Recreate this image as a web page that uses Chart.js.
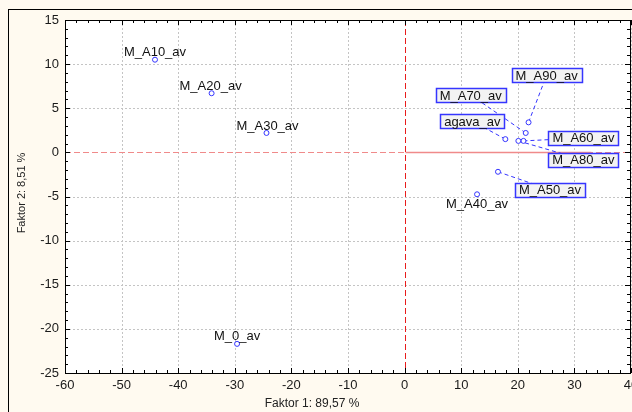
<!DOCTYPE html>
<html>
<head>
<meta charset="utf-8">
<script src="https://cdn.jsdelivr.net/npm/chart.js@4.4.0/dist/chart.umd.min.js"></script>
<style>
  html, body { margin: 0; padding: 0; background: #fffaf0; }
  #wrap { width: 632px; height: 412px; }
</style>
</head>
<body>
<div id="wrap"><canvas id="pcaChart" width="632" height="412"></canvas></div>
<script>
// dados (Faktor 1 x Faktor 2)
const nomes = ['M_0_av', 'M_A10_av', 'M_A20_av', 'M_A30_av', 'M_A40_av', 'M_A50_av', 'agava_av', 'M_A60_av', 'M_A70_av', 'M_A80_av', 'M_A90_av'];
const fator1 = [-29.6, -44.1, -34.1, -24.4, 12.8, 16.5, 17.8, 21.0, 21.4, 20.1, 21.9];
const fator2 = [-21.7, 10.5, 6.7, 2.2, -4.75, -2.2, 1.5, 1.3, 2.2, 1.3, 3.4];
const ticksX = [-60, -50, -40, -30, -20, -10, 0, 10, 20, 30, 40];
const ticksY = [-25, -20, -15, -10, -5, 0, 5, 10, 15];

// onde vai cada rotulo (em pixels, relativo ao ponto)
const rotulos = {
    'M_0_av':   { caixa: false, dx: 0,   dy: -8 },
    'M_A10_av': { caixa: false, dx: 0,   dy: -8 },
    'M_A20_av': { caixa: false, dx: -1,  dy: -8 },
    'M_A30_av': { caixa: false, dx: 1,   dy: -8 },
    'M_A40_av': { caixa: false, dx: 0,   dy: 9 },
    'M_A50_av': { caixa: true,  dx: 52,  dy: 18 },
    'agava_av': { caixa: true,  dx: -33, dy: -18 },
    'M_A60_av': { caixa: true,  dx: 60,  dy: -3 },
    'M_A70_av': { caixa: true,  dx: -55, dy: -38 },
    'M_A80_av': { caixa: true,  dx: 65,  dy: 19 },
    'M_A90_av': { caixa: true,  dx: 18,  dy: -47 }
};

const fonte = '"Liberation Sans", Arial, sans-serif';
const azul = '#3535ff';

function posRotulo(chart, i) {
    const xs = chart.scales.x, ys = chart.scales.y;
    const px = xs.getPixelForValue(fator1[i]);
    const py = ys.getPixelForValue(fator2[i]);
    const r = rotulos[nomes[i]];
    return { px: px, py: py, cx: px + r.dx, cy: py + r.dy, r: r };
}

const fundoPlugin = {
    id: 'fundo',
    beforeDraw(chart) {
        const c = chart.ctx, a = chart.chartArea;
        const xs = chart.scales.x, ys = chart.scales.y;
        c.save();
        c.fillStyle = '#fffaf0';
        c.fillRect(0, 0, chart.width, chart.height);
        c.strokeStyle = '#000';
        c.lineWidth = 1;
        c.strokeRect(8.5, 9.5, chart.width + 20, chart.height + 20);
        c.fillStyle = '#ffffff';
        c.fillRect(a.left, a.top, a.right - a.left, a.bottom - a.top);

        // grade pontilhada (no zero fica so a linha vermelha)
        c.strokeStyle = '#c4c4c4';
        c.setLineDash([2, 2]);
        ticksX.forEach(function (v) {
            if (v === 0) return;
            const x = Math.round(xs.getPixelForValue(v)) + 0.5;
            c.beginPath(); c.moveTo(x, a.top); c.lineTo(x, a.bottom); c.stroke();
        });
        ticksY.forEach(function (v) {
            if (v === 0) return;
            const y = Math.round(ys.getPixelForValue(v)) + 0.5;
            c.beginPath(); c.moveTo(a.left, y); c.lineTo(a.right, y); c.stroke();
        });

        // linhas do zero
        const x0 = Math.round(xs.getPixelForValue(0)) + 0.5;
        const y0 = Math.round(ys.getPixelForValue(0)) + 0.5;
        c.strokeStyle = '#f08a8a';
        c.setLineDash([6, 3]);
        c.beginPath(); c.moveTo(a.left, y0); c.lineTo(a.right, y0); c.stroke();
        c.setLineDash([]);
        c.lineWidth = 1.5;
        c.beginPath(); c.moveTo(x0, y0); c.lineTo(xs.getPixelForValue(33), y0); c.stroke();
        c.lineWidth = 1;
        c.strokeStyle = '#e81c1c';
        c.setLineDash([6, 3]);
        c.beginPath(); c.moveTo(x0, a.top); c.lineTo(x0, a.bottom); c.stroke();
        c.restore();
    },
    beforeDatasetsDraw(chart) {
        const c = chart.ctx;
        c.save();
        c.strokeStyle = azul;
        c.lineWidth = 1;
        c.setLineDash([4, 3]);
        nomes.forEach(function (n, i) {
            const p = posRotulo(chart, i);
            if (!p.r.caixa) return;
            c.beginPath(); c.moveTo(p.px, p.py); c.lineTo(p.cx, p.cy); c.stroke();
        });
        c.restore();
    },
    afterDatasetsDraw(chart) {
        const c = chart.ctx, a = chart.chartArea;
        const xs = chart.scales.x, ys = chart.scales.y;
        c.save();
        c.font = '13px ' + fonte;
        c.textAlign = 'center';
        c.textBaseline = 'middle';
        nomes.forEach(function (n, i) {
            const p = posRotulo(chart, i);
            if (p.r.caixa) {
                const w = Math.round(c.measureText(n).width) + 8, h = 14;
                const bx = Math.round(p.cx - w / 2) + 0.5, by = Math.round(p.cy - h / 2) + 0.5;
                c.fillStyle = '#f3f3f3';
                c.fillRect(bx, by, w, h);
                c.strokeStyle = azul;
                c.lineWidth = 1.5;
                c.strokeRect(bx, by, w, h);
            }
            c.fillStyle = '#111';
            c.fillText(n, p.cx, p.cy + 1);
        });

        // ultimo rotulo do eixo x (fica cortado na borda)
        const ultimo = ticksX[ticksX.length - 1];
        c.fillStyle = '#1a1a1a';
        c.textBaseline = 'top';
        c.fillText(String(ultimo), xs.getPixelForValue(ultimo), a.bottom + 6);
        c.textBaseline = 'middle';

        // moldura e tracinhos
        c.strokeStyle = '#000';
        c.lineWidth = 1;
        c.strokeRect(a.left + 0.5, a.top + 0.5, a.right - a.left - 1, a.bottom - a.top);
        c.beginPath();
        for (let v = -60; v <= 40; v += 2) {
            const x = Math.round(xs.getPixelForValue(v)) + 0.5;
            const t = (v % 10 === 0) ? 5 : 3;
            c.moveTo(x, a.bottom); c.lineTo(x, a.bottom - t);
            c.moveTo(x, a.top); c.lineTo(x, a.top + t);
        }
        for (let v = -25; v <= 15; v += 1) {
            const y = Math.round(ys.getPixelForValue(v)) + 0.5;
            const t = (v % 5 === 0) ? 5 : 3;
            c.moveTo(a.left, y); c.lineTo(a.left + t, y);
            c.moveTo(a.right - 1, y); c.lineTo(a.right - 1 - t, y);
        }
        c.stroke();

        // titulos dos eixos
        c.fillStyle = '#222';
        c.font = '12px ' + fonte;
        c.fillText('Faktor 1: 89,57 %', 312, 404);
        c.translate(22, 193);
        c.rotate(-Math.PI / 2);
        c.font = '11px ' + fonte;
        c.fillText('Faktor 2: 8,51 %', 0, 0);
        c.restore();
    }
};

const ctx = document.getElementById('pcaChart').getContext('2d');

const pcaChart = new Chart(ctx, {
    type: 'scatter',
    data: {
        datasets: [{
            label: 'fatores',
            data: nomes.map(function (n, i) { return { x: fator1[i], y: fator2[i] }; }),
            backgroundColor: '#ffffff',
            borderColor: azul,
            borderWidth: 1,
            pointRadius: 2.5
        }]
    },
    options: {
        responsive: false,
        devicePixelRatio: 1,
        animation: false,
        layout: {
            autoPadding: false,
            padding: { top: 20, left: 0, right: 1, bottom: 0 }
        },
        plugins: {
            legend: { display: false },
            tooltip: { enabled: false }
        },
        scales: {
            x: {
                type: 'linear',
                min: -60,
                max: 40,
                afterBuildTicks: function (scale) {
                    scale.ticks = ticksX.map(function (v) { return { value: v }; });
                },
                afterFit: function (scale) {
                    scale.height = 39;
                    scale.paddingLeft = 0;
                    scale.paddingRight = 0;
                },
                ticks: {
                    color: '#1a1a1a',
                    padding: 5,
                    maxRotation: 0,
                    autoSkip: false,
                    font: { family: fonte, size: 13 },
                    // o 40 e desenhado a parte, senao o grafico encolhe
                    callback: function (v) { return v === ticksX[ticksX.length - 1] ? '' : v; }
                },
                grid: { display: false, drawTicks: false },
                border: { display: false }
            },
            y: {
                type: 'linear',
                min: -25,
                max: 15,
                afterBuildTicks: function (scale) {
                    scale.ticks = ticksY.map(function (v) { return { value: v }; });
                },
                afterFit: function (scale) {
                    scale.width = 65;
                    scale.paddingTop = 0;
                    scale.paddingBottom = 0;
                },
                ticks: {
                    color: '#1a1a1a',
                    padding: 6,
                    autoSkip: false,
                    font: { family: fonte, size: 13 }
                },
                grid: { display: false, drawTicks: false },
                border: { display: false }
            }
        }
    },
    plugins: [fundoPlugin]
});
</script>
</body>
</html>
